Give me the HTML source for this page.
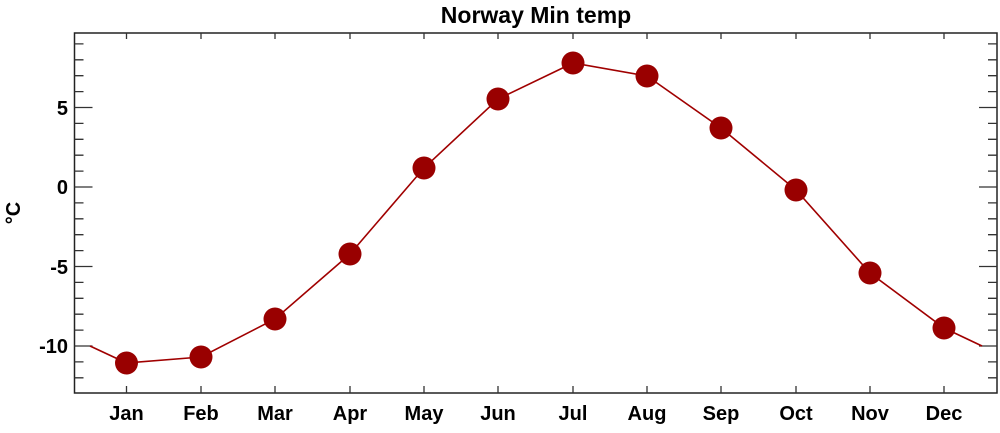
<!DOCTYPE html>
<html><head><style>body{margin:0;background:#fff}</style></head><body>
<svg width="1000" height="428" xmlns="http://www.w3.org/2000/svg" font-family="Liberation Sans, sans-serif" font-weight="bold">
<text x="536" y="23" font-size="23" text-anchor="middle">Norway Min temp</text>
<text transform="translate(20,213) rotate(-90)" font-size="20" text-anchor="middle">°C</text>
<rect x="74.5" y="33" width="922.5" height="360" fill="none" stroke="#222" stroke-width="1.5"/>
<g id="ticks" stroke="#333" stroke-width="1.3"></g>
<g font-size="20" text-anchor="end">
<text x="68" y="115">5</text><text x="68" y="194">0</text><text x="68" y="274">-5</text><text x="68" y="353">-10</text>
</g>
<g font-size="20" text-anchor="middle">
<text x="126.5" y="420">Jan</text><text x="201" y="420">Feb</text><text x="275" y="420">Mar</text><text x="350" y="420">Apr</text><text x="424" y="420">May</text><text x="498" y="420">Jun</text><text x="573" y="420">Jul</text><text x="647" y="420">Aug</text><text x="721" y="420">Sep</text><text x="796" y="420">Oct</text><text x="870" y="420">Nov</text><text x="944" y="420">Dec</text>
</g>
<polyline fill="none" stroke="#a00000" stroke-width="1.6" points="90,346 126.5,363 201,357 275,319 350,254 424,168 498,99 573,63 647,76 721,128 796,190 870,273 944,328 982,346"/>
<g fill="#990000">
<circle cx="126.5" cy="363" r="11.5"/><circle cx="201" cy="357" r="11.5"/><circle cx="275" cy="319" r="11.5"/><circle cx="350" cy="254" r="11.5"/><circle cx="424" cy="168" r="11.5"/><circle cx="498" cy="99" r="11.5"/><circle cx="573" cy="63" r="11.5"/><circle cx="647" cy="76" r="11.5"/><circle cx="721" cy="128" r="11.5"/><circle cx="796" cy="190" r="11.5"/><circle cx="870" cy="273" r="11.5"/><circle cx="944" cy="328" r="11.5"/>
</g>
</svg>
<script>
var g=document.getElementById('ticks'),d='';
for(var v=9;v>=-12;v--){var y=187-v*15.9,L=(v%5==0)?18:9;d+='M74.5 '+y+'h'+L+'M997 '+y+'h-'+L;}
[126.5,201,275,350,424,498,573,647,721,796,870,944].forEach(function(x){d+='M'+x+' 33v6M'+x+' 393v-7';});
var p=document.createElementNS('http://www.w3.org/2000/svg','path');p.setAttribute('d',d);p.setAttribute('fill','none');g.appendChild(p);
</script>
</body></html>
